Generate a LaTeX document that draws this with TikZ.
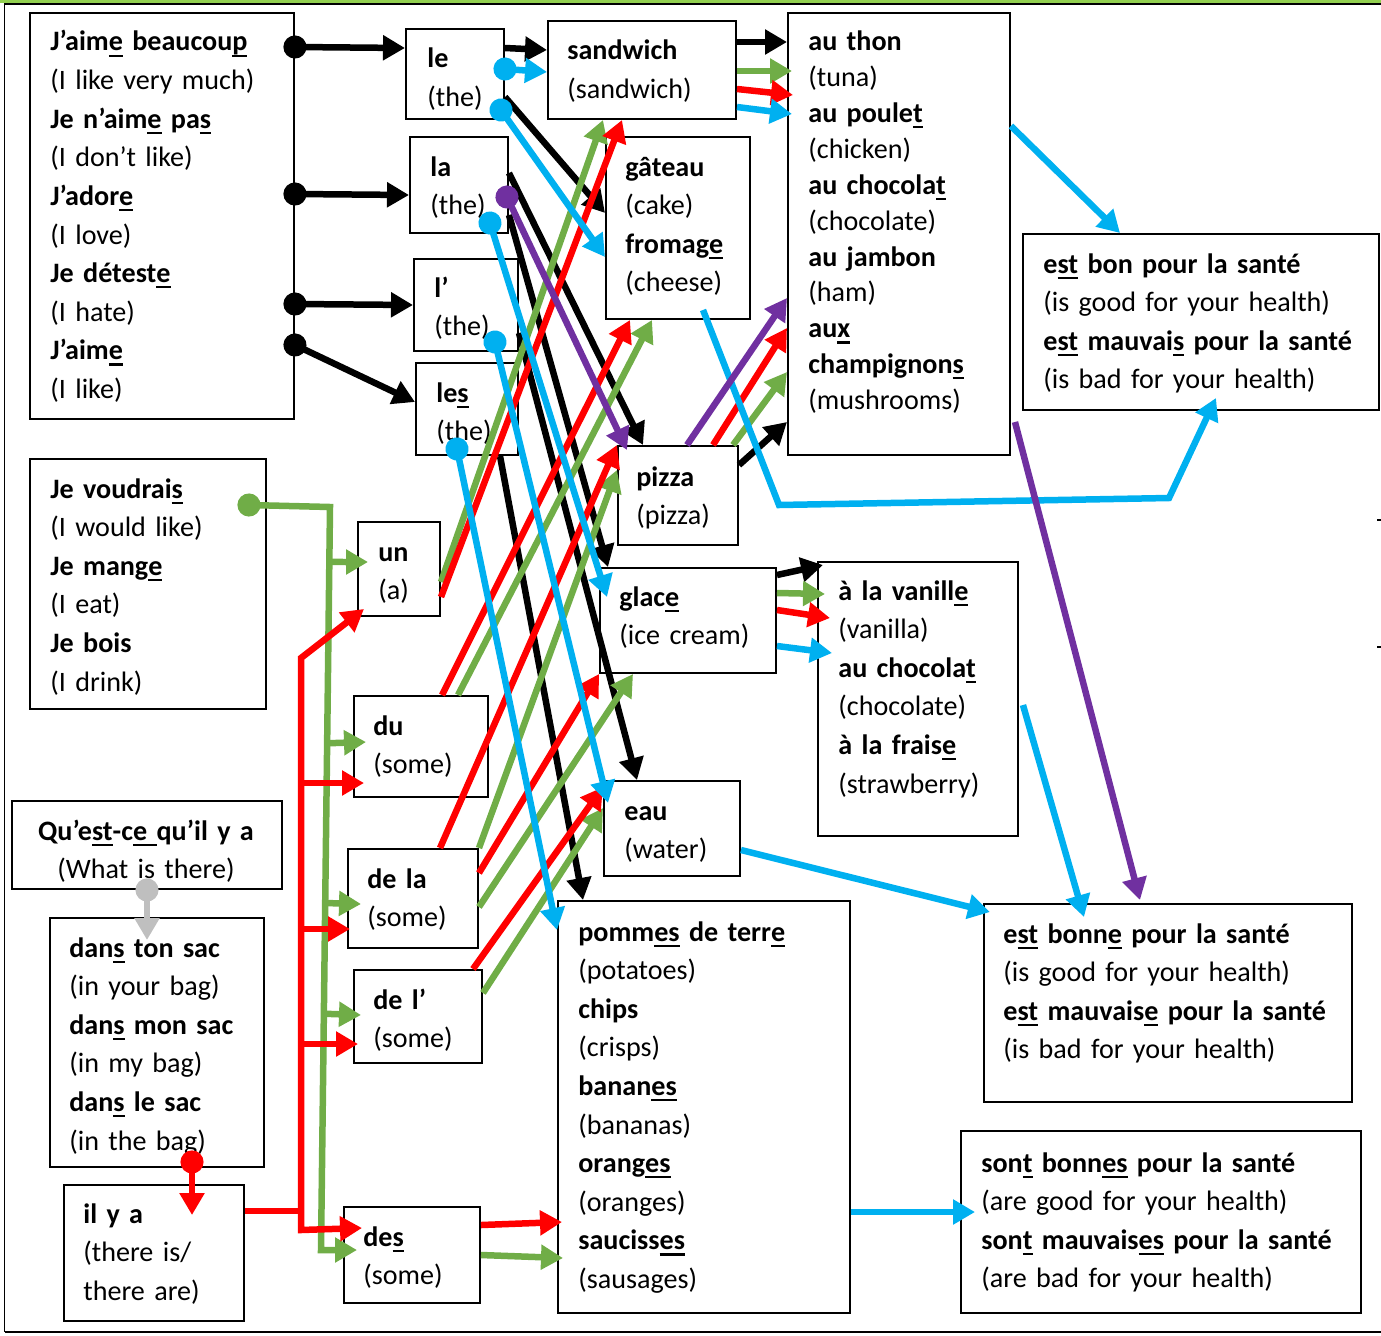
\documentclass[tikz,border=0pt]{standalone}
\usepackage{fontspec}
\setmainfont{Carlito}
\usetikzlibrary{arrows.meta,calc}
\definecolor{grn}{HTML}{70AD47}
\definecolor{blu}{HTML}{00B0F0}
\definecolor{purp}{HTML}{7030A0}
\definecolor{rd}{HTML}{FF0000}
\definecolor{gry}{HTML}{BFBFBF}
\definecolor{topgrn}{HTML}{92D050}
\newcommand{\boxfont}{\fontsize{16}{21.97}\selectfont}
\newcommand{\thonfont}{\fontsize{16}{20.4}\selectfont}
\newcommand{\uln}[1]{\setbox0=\hbox{#1}\leavevmode\rlap{\rule[-3.3pt]{\wd0}{1.3pt}}\box0\relax}
\tikzset{
  box/.style={draw, line width=0.04cm, anchor=north west, inner sep=0pt},
  lbl/.style={anchor=base west, align=left, inner sep=0pt, text width=7.5cm, font=\boxfont},
  link/.style={line width=0.13cm, -{Triangle[length=0.44cm,width=0.48cm]}},
  link2/.style={line width=0.13cm, {Triangle[length=0.44cm,width=0.48cm]}-{Triangle[length=0.44cm,width=0.48cm]}},
  dotlink/.style={line width=0.13cm, {Circle[length=0.46cm]}-{Triangle[length=0.44cm,width=0.48cm]}, shorten <=-0.23cm},
}
\begin{document}
\begin{tikzpicture}[x=0.02cm, y=-0.02cm]
\useasboundingbox (0,0) rectangle (1381,1335);

% Frame of the page
\fill[topgrn] (0,0) rectangle (1381,2.7);
\draw[line width=0.04cm] (4,3.7) -- (1381,3.7);
\draw[line width=0.04cm] (4.5,3.7) -- (4.5,1332);
\draw[line width=0.04cm] (4.5,1332) -- (1381,1332);
\draw[line width=0.03cm] (1377,520) -- (1381,520);
\draw[line width=0.03cm] (1377,647) -- (1381,647);

% Boxes
\node[box, minimum width=5.28cm, minimum height=8.12cm] (verbs) at (29,12) {};
\node[box, minimum width=1.96cm, minimum height=1.80cm] (le) at (405,28) {};
\node[box, minimum width=1.96cm, minimum height=1.92cm] (la) at (409,136) {};
\node[box, minimum width=2.08cm, minimum height=1.84cm] (lapos) at (413,258) {};
\node[box, minimum width=2.04cm, minimum height=1.84cm] (les) at (415,362) {};
\node[box, minimum width=3.76cm, minimum height=1.96cm] (sandwich) at (547,20) {};
\node[box, minimum width=2.88cm, minimum height=3.64cm] (gateau) at (605,136) {};
\node[box, minimum width=4.44cm, minimum height=8.84cm] (thon) at (787,12) {};
\node[box, minimum width=7.12cm, minimum height=3.52cm] (estbon) at (1022,233) {};
\node[box, minimum width=4.72cm, minimum height=5.00cm] (voudrais) at (29,458) {};
\node[box, minimum width=1.64cm, minimum height=1.88cm] (un) at (357,521) {};
\node[box, minimum width=2.40cm, minimum height=1.98cm] (pizza) at (617,445) {};
\node[box, minimum width=3.52cm, minimum height=2.10cm] (glace) at (599,567) {};
\node[box, minimum width=4.00cm, minimum height=5.48cm] (vanille) at (817,561) {};
\node[box, minimum width=2.68cm, minimum height=2.02cm] (du) at (353,695) {};
\node[box, minimum width=5.40cm, minimum height=1.76cm] (quest) at (11,800) {};
\node[box, minimum width=2.60cm, minimum height=1.98cm] (dela) at (347,848) {};
\node[box, minimum width=2.72cm, minimum height=1.90cm] (eau) at (603,780) {};
\node[box, minimum width=7.36cm, minimum height=3.96cm] (estbonne) at (983,903) {};
\node[box, minimum width=4.28cm, minimum height=4.98cm] (dans) at (49,917) {};
\node[box, minimum width=2.56cm, minimum height=1.86cm] (delapos) at (353,969) {};
\node[box, minimum width=5.84cm, minimum height=8.24cm] (pommes) at (557,900) {};
\node[box, minimum width=3.60cm, minimum height=2.72cm] (ilya) at (63,1184) {};
\node[box, minimum width=2.72cm, minimum height=1.92cm] (des) at (343,1206) {};
\node[box, minimum width=8.00cm, minimum height=3.64cm] (sont) at (960,1130) {};

% Texts of the boxes
\node[lbl] (verbs-t) at (50,51) {\textbf{J’aim\uln{e} beaucou\uln{p}}\\(I like very much)\\\textbf{Je n’aim\uln{e} pa\uln{s}}\\(I don’t like)\\\textbf{J’ador\uln{e}}\\(I love)\\\textbf{Je détest\uln{e}}\\(I hate)\\\textbf{J’aim\uln{e}}\\(I like)};
\node[lbl] (le-t) at (427,68) {\textbf{le}\\(the)};
\node[lbl] (la-t) at (430,176) {\textbf{la}\\(the)};
\node[lbl] (lapos-t) at (434,297) {\textbf{l’}\\(the)};
\node[lbl] (les-t) at (436,402) {\textbf{le\uln{s}}\\(the)};
\node[lbl] (sandwich-t) at (567,60) {\textbf{sandwich}\\(sandwich)};
\node[lbl] (gateau-t) at (625,176) {\textbf{gâteau}\\(cake)\\\textbf{fromag\uln{e}}\\(cheese)};
\node[lbl, font=\thonfont] (thon-t) at (808,51) {\textbf{au thon}\\(tuna)\\\textbf{au poule\uln{t}}\\(chicken)\\\textbf{au chocola\uln{t}}\\(chocolate)\\\textbf{au jambon}\\(ham)\\\textbf{au\uln{x}}\\\textbf{champignon\uln{s}}\\(mushrooms)};
\node[lbl] (estbon-t) at (1043,273) {\textbf{e\uln{st} bon pour la santé}\\(is good for your health)\\\textbf{e\uln{st} mauvai\uln{s} pour la santé}\\(is bad for your health)};
\node[lbl] (voudrais-t) at (50,498) {\textbf{Je voudrai\uln{s}}\\(I would like)\\\textbf{Je mang\uln{e}}\\(I eat)\\\textbf{Je bois}\\(I drink)};
\node[lbl] (un-t) at (378,561) {\textbf{un}\\(a)};
\node[lbl] (pizza-t) at (636,486) {\textbf{pizza}\\(pizza)};
\node[lbl] (glace-t) at (619,606) {\textbf{glac\uln{e}}\\(ice cream)};
\node[lbl] (vanille-t) at (838,600) {\textbf{à la vanill\uln{e}}\\(vanilla)\\\textbf{au chocola\uln{t}}\\(chocolate)\\\textbf{à la frais\uln{e}}\\(strawberry)};
\node[lbl] (du-t) at (373,735) {\textbf{du}\\(some)};
\node[lbl, anchor=base, align=center, text width=5.4cm] (quest-t) at (146,840) {\textbf{Qu’e\uln{st}-c\uln{e\ }qu’il y a}\\(What is there)};
\node[lbl] (dela-t) at (367,888) {\textbf{de la}\\(some)};
\node[lbl] (eau-t) at (624,820) {\textbf{eau}\\(water)};
\node[lbl] (estbonne-t) at (1003,943) {\textbf{e\uln{st} bonn\uln{e} pour la santé}\\(is good for your health)\\\textbf{e\uln{st} mauvais\uln{e} pour la santé}\\(is bad for your health)};
\node[lbl] (dans-t) at (69,957) {\textbf{dan\uln{s} ton sac}\\(in your bag)\\\textbf{dan\uln{s} mon sac}\\(in my bag)\\\textbf{dan\uln{s} le sac}\\(in the bag)};
\node[lbl] (delapos-t) at (373,1009) {\textbf{de l’}\\(some)};
\node[lbl] (pommes-t) at (578,941) {\textbf{pomm\uln{es} de terr\uln{e}}\\(potatoes)\\\textbf{chips}\\(crisps)\\\textbf{banan\uln{es}}\\(bananas)\\\textbf{orang\uln{es}}\\(oranges)\\\textbf{sauciss\uln{es}}\\(sausages)};
\node[lbl] (ilya-t) at (83,1223) {\textbf{il y a}\\(there is/\\there are)};
\node[lbl] (des-t) at (363,1246) {\textbf{de\uln{s}}\\(some)};
\node[lbl] (sont-t) at (981,1172) {\textbf{son\uln{t} bonn\uln{es} pour la santé}\\(are good for your health)\\\textbf{son\uln{t} mauvais\uln{es} pour la santé}\\(are bad for your health)};

% Black arrows from the verbs to the articles
\draw[dotlink] (verbs.east |- 0,47) -- (le.west |- 0,48);
\draw[dotlink] (verbs.east |- 0,194) -- (la.west |- 0,195);
\draw[dotlink] (verbs.east |- 0,304) -- (lapos.west |- 0,305);
\draw[dotlink] (verbs.east |- 0,345) -- (les.west |- 0,402);

% Black arrows from the articles to the nouns
\draw[link] (le.east |- 0,48) -- (sandwich.west |- 0,50);
\draw[link] (le.east |- 0,97) -- (gateau.west |- 0,213);
\draw[link] (la.east |- 0,173) -- (pizza.north -| 643,0);
\draw[link] (la.east |- 0,215) -- (glace.north -| 608,0);
\draw[link] (lapos.east |- 0,333) -- (eau.north -| 637,0);
\draw[link] (les.south -| 500,0) -- (pommes.north -| 583,0);

% Black arrows from the nouns to the fillings
\draw[link] (sandwich.east |- 0,42) -- (thon.west |- 0,42);
\draw[link] (pizza.east |- 0,465) -- (thon.west |- 0,422);
\draw[link] (glace.east |- 0,575) -- ($(vanille.west |- 0,565)+(6,0)$);

% Green path from Je voudrais
\coordinate (gtop) at (330,507);
\coordinate (gbot) at (321,1250);
\draw[dotlink, grn] ($(voudrais.east |- 0,505)+(-18,0)$) -- (gtop) -- (gbot) -- ($(des.west |- 0,1250)+(14,0)$);
\draw[link, grn] ($(gtop)!0.074!(gbot)$) -- ($(un.west |- 0,562)+(11,0)$);
\draw[link, grn] ($(gtop)!0.318!(gbot)$) -- ($(du.west |- 0,742)+(13,0)$);
\draw[link, grn] ($(gtop)!0.533!(gbot)$) -- ($(dela.west |- 0,904)+(14,0)$);
\draw[link, grn] ($(gtop)!0.682!(gbot)$) -- ($(delapos.west |- 0,1015)+(8,0)$);

% Green arrows
\draw[link, grn] (sandwich.east |- 0,71) -- ($(thon.west |- 0,71)+(5,0)$);
\draw[link, grn] (un.east |- 0,582) -- (sandwich.south -| 603,0);
\draw[link, grn] (du.north -| 458,0) -- (gateau.south -| 652,0);
\draw[link, grn] (dela.north east) -- (pizza.west |- 0,470);
\draw[link, grn] (dela.east |- 0,907) -- (glace.south -| 633,0);
\draw[link, grn] (delapos.east |- 0,993) -- (eau.west |- 0,808);
\draw[link, grn] (pizza.north -| 733,0) -- (thon.west |- 0,372);
\draw[link, grn] (glace.east |- 0,593) -- ($(vanille.west |- 0,594)+(8,0)$);
\draw[link, grn] (des.east |- 0,1255) -- ($(pommes.west |- 0,1258)+(6,0)$);

% Red path from il y a
\coordinate (rtop) at (301,658);
\coordinate (rbot) at (301,1230);
\draw[dotlink, rd] ($(dans.south -| 192,0)+(0,-6)$) -- ($(ilya.north -| 192,0)+(0,31)$);
\draw[line width=0.13cm, rd] (ilya.east |- 0,1211) -- (rtop |- 0,1211);
\draw[link2, rd] ($(un.south west)+(7,-8)$) -- (rtop) -- (rbot) -- ($(des.west |- 0,1228)+(19,0)$);
\draw[link, rd] (rtop |- 0,783) -- ($(du.west |- 0,783)+(11,0)$);
\draw[link, rd] (rtop |- 0,929) -- ($(dela.west |- 0,929)+(3,0)$);
\draw[link, rd] (rtop |- 0,1044) -- ($(delapos.west |- 0,1044)+(5,0)$);

% Red arrows
\draw[link, rd] (sandwich.east |- 0,89) -- ($(thon.west |- 0,95)+(6,0)$);
\draw[link, rd] (un.east |- 0,597) -- (sandwich.south -| 622,0);
\draw[link, rd] (du.north -| 442,0) -- (gateau.south -| 630,0);
\draw[link, rd] (dela.north -| 440,0) -- (pizza.north west);
\draw[link, rd] (dela.east |- 0,873) -- (glace.south west);
\draw[link, rd] (delapos.north -| 473,0) -- (eau.west |- 0,787);
\draw[link, rd] (pizza.north -| 713,0) -- (thon.west |- 0,328);
\draw[link, rd] (glace.east |- 0,610) -- ($(vanille.west |- 0,618)+(13,0)$);
\draw[link, rd] (des.east |- 0,1225) -- ($(pommes.west |- 0,1222)+(5,0)$);

% Grey arrow
\draw[dotlink, gry] (quest.south -| 147,0) -- ($(dans.north -| 147,0)+(0,23)$);

% Blue arrows
\draw[dotlink, blu] (le.east |- 0,69) -- (sandwich.west |- 0,72);
\draw[dotlink, blu] ($(le.east |- 0,110)+(-4,0)$) -- (gateau.west |- 0,257);
\draw[link, blu] (sandwich.east |- 0,107) -- ($(thon.west |- 0,114)+(5,0)$);
\draw[dotlink, blu] ($(la.east |- 0,223)+(-19,0)$) -- ($(glace.west |- 0,597)+(8,0)$);
\draw[dotlink, blu] ($(lapos.east |- 0,342)+(-24,0)$) -- ($(eau.west |- 0,803)+(5,0)$);
\draw[dotlink, blu] ($(les.south west)+(42,-7)$) -- (pommes.west |- 0,930);
\draw[link, blu] (thon.east |- 0,126) -- (estbon.north -| 1120,0);
\draw[link, blu] ($(gateau.south -| 703,0)+(0,-10)$) -- (779,505) -- (1169,498) -- ($(estbon.south -| 1216,0)+(0,-13)$);
\draw[link, blu] (glace.east |- 0,646) -- ($(vanille.west |- 0,653)+(15,0)$);
\draw[link, blu] ($(vanille.east |- 0,705)+(4,0)$) -- ($(estbonne.north -| 1084,0)+(0,14)$);
\draw[link, blu] (eau.east |- 0,850) -- ($(estbonne.north west)+(7,9)$);
\draw[link, blu] (pommes.east |- 0,1212) -- ($(sont.west |- 0,1212)+(15,0)$);

% Purple arrows
\draw[dotlink, purp] ($(la.east |- 0,197)+(-2,0)$) -- ($(pizza.north -| 627,0)+(0,5)$);
\draw[link, purp] (pizza.north -| 687,0) -- (thon.west |- 0,298);
\draw[link, purp] ($(thon.east |- 0,422)+(4,0)$) -- ($(estbonne.north -| 1140,0)+(0,-3)$);
\end{tikzpicture}
\end{document}
